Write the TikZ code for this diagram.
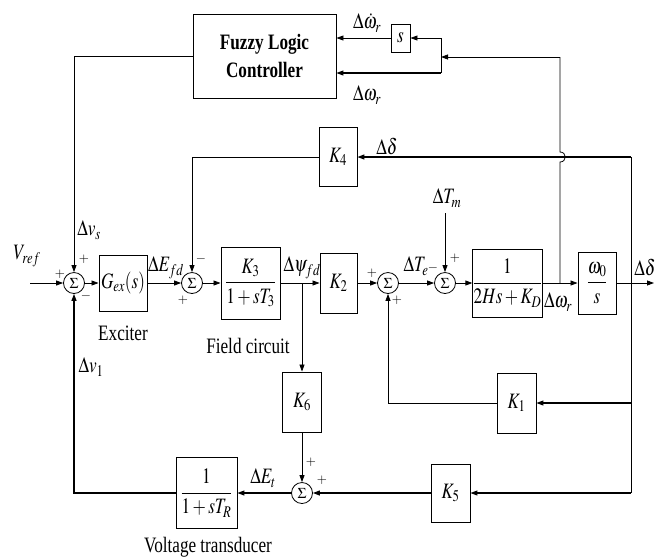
\documentclass[tikz,border=0pt]{standalone}
\usepackage{mathptmx}
\usepackage{fontspec}
\setmainfont{Liberation Serif}
\usepackage{graphicx}
\usetikzlibrary{arrows.meta}
\newcommand{\sx}[1]{\scalebox{0.78}[1]{#1}}
\begin{document}
\begin{tikzpicture}[x=1pt,y=-1pt,
  ln/.style={line width=0.8pt},
  arr/.style={ln,-{Triangle[length=7pt,width=5pt]}},
  blk/.style={draw,line width=0.9pt,inner sep=0pt,font=\fontsize{22}{26}\selectfont},
  sumn/.style={draw,circle,line width=0.8pt,minimum size=21pt,inner sep=0pt,font=\fontsize{15}{15}\selectfont},
  sig/.style={inner sep=0pt,font=\fontsize{13}{13}\selectfont},
  lbl/.style={inner sep=0pt,font=\fontsize{22}{26}\selectfont}]
\useasboundingbox (0,0) rectangle (664,558);
% blocks
\node[blk,minimum width=143pt,minimum height=84pt,align=center,font=\fontsize{22}{28}\selectfont\bfseries] (fuzzy) at (264.5,56) {\sx{Fuzzy Logic}\\\sx{Controller}};
\node[blk,minimum width=19pt,minimum height=28pt] (sb) at (400.5,38) {\sx{$s$}};
\node[blk,minimum width=38pt,minimum height=59pt] (k4) at (338,157) {\sx{$K_4$}};
\node[blk,minimum width=48pt,minimum height=56pt] (gex) at (123,283) {\sx{$G_{ex}(s)$}};
\node[blk,minimum width=59pt,minimum height=72pt] (k3) at (250.5,283) {\sx{$\displaystyle\frac{K_3}{1+sT_3}$}};
\node[blk,minimum width=37pt,minimum height=60pt] (k2) at (338.5,283) {\sx{$K_2$}};
\node[blk,minimum width=67pt,minimum height=68pt] (h2) at (507.5,283) {\sx{$\displaystyle\frac{1}{2Hs+K_D}$}};
\node[blk,minimum width=38pt,minimum height=62pt] (w0) at (597,283) {\sx{$\displaystyle\frac{\omega_0}{s}$}};
\node[blk,minimum width=39pt,minimum height=60pt] (k1) at (516.5,403) {\sx{$K_1$}};
\node[blk,minimum width=39pt,minimum height=60pt] (k6) at (302,402) {\sx{$K_6$}};
\node[blk,minimum width=39pt,minimum height=58pt] (k5) at (450.5,493) {\sx{$K_5$}};
\node[blk,minimum width=61pt,minimum height=71pt] (tr) at (206.5,493) {\sx{$\displaystyle\frac{1}{1+sT_R}$}};
% summing junctions
\node[sumn] (s1) at (74,283) {$\Sigma$};
\node[sumn] (s2) at (192,283) {$\Sigma$};
\node[sumn] (s3) at (388,283) {$\Sigma$};
\node[sumn] (s4) at (445,283) {$\Sigma$};
\node[sumn] (s5) at (302,493) {$\Sigma$};
% coordinates
\coordinate (vin) at (30,283);
\coordinate (bpsi) at (302,283);
\coordinate (bw) at (560,283);
\coordinate (out) at (654,283);
\coordinate (r4) at (631,157);
\coordinate (r1) at (631,403);
\coordinate (r5) at (631,493);
\coordinate (tm) at (445,213);
\coordinate (tw) at (560,57);
\coordinate (bf) at (441,57);
\coordinate (bt) at (441,38);
\coordinate (bb) at (441,73);
% main path
\draw[arr] (vin) -- (s1.west);
\draw[arr] (s1.east) -- (gex.west);
\draw[arr] (gex.east) -- (s2.west);
\draw[arr] (s2.east) -- (k3.west);
\draw[ln] (k3.east) -- (bpsi);
\draw[arr] (bpsi) -- (k2.west);
\draw[arr] (bpsi) -- (k6.north);
\draw[arr] (k2.east) -- (s3.west);
\draw[arr] (s3.east) -- (s4.west);
\draw[arr] (tm) -- (s4.north);
\draw[arr] (s4.east) -- (h2.west);
\draw[ln] (h2.east) -- (bw);
\draw[arr] (bw) -- (w0.west);
\draw[arr] (w0.east) -- (out);
% feedback paths
\draw[ln] (r4) -- (r5);
\draw[arr,line width=1.3pt] (r4) -- (k4.east);
\draw[arr] (k4.west) -| (s2.north);
\draw[arr,line width=1.1pt] (r1) -- (k1.east);
\draw[arr] (k1.west) -| (s3.south);
\draw[arr,line width=1.1pt] (r5) -- (k5.east);
\draw[arr,line width=1.1pt] (k5.west) -- (s5.east);
\draw[arr] (k6.south) -- (s5.north);
\draw[arr,line width=1.1pt] (s5.west) -- (tr.east);
\draw[arr,line width=1.1pt] (tr.west) -| (s1.south);
\draw[arr] (fuzzy.west) -| (s1.north);
% fuzzy inputs
\draw[ln] (bw) -- (560,162) .. controls (567,162) and (567,152) .. (560,152) -- (tw);
\draw[arr] (tw) -- (bf);
\draw[ln] (bt) -- (bb);
\draw[arr] (bt) -- (sb.east);
\draw[arr] (sb.west) -- (sb.west -| fuzzy.east);
\draw[arr,line width=1.1pt] (bb) -- (bb -| fuzzy.east);
% signs
\node[sig] at (60,274) {$+$};
\node[sig] at (84,259) {$+$};
\node[sig] at (86,296) {$-$};
\node[sig] at (201,259) {$-$};
\node[sig] at (183,300) {$+$};
\node[sig] at (372,273) {$+$};
\node[sig] at (397,300) {$+$};
\node[sig] at (433,268) {$-$};
\node[sig] at (455,258) {$+$};
\node[sig] at (311,462) {$+$};
\node[sig] at (322,480) {$+$};
% labels
\node[lbl] at (27,256) {\sx{$V_{ref}$}};
\node[lbl] at (89,230) {\sx{$\Delta v_s$}};
\node[lbl] at (91,367) {\sx{$\Delta v_1$}};
\node[lbl] at (166,268) {\sx{$\Delta E_{fd}$}};
\node[lbl] at (123,333) {\sx{Exciter}};
\node[lbl] at (248,346) {\sx{Field circuit}};
\node[lbl] at (302,268) {\sx{$\Delta\psi_{fd}$}};
\node[lbl] at (416,266) {\sx{$\Delta T_e$}};
\node[lbl] at (447,198) {\sx{$\Delta T_m$}};
\node[lbl] at (558,302) {\sx{$\Delta\omega_r$}};
\node[lbl] at (645,267) {\sx{$\Delta\delta$}};
\node[lbl] at (387,146) {\sx{$\Delta\delta$}};
\node[lbl] at (367,23) {\sx{$\Delta\dot{\omega}_r$}};
\node[lbl] at (367,95) {\sx{$\Delta\omega_r$}};
\node[lbl] at (263,478) {\sx{$\Delta E_t$}};
\node[lbl] at (208,547) {\sx{Voltage transducer}};
\end{tikzpicture}
\end{document}
